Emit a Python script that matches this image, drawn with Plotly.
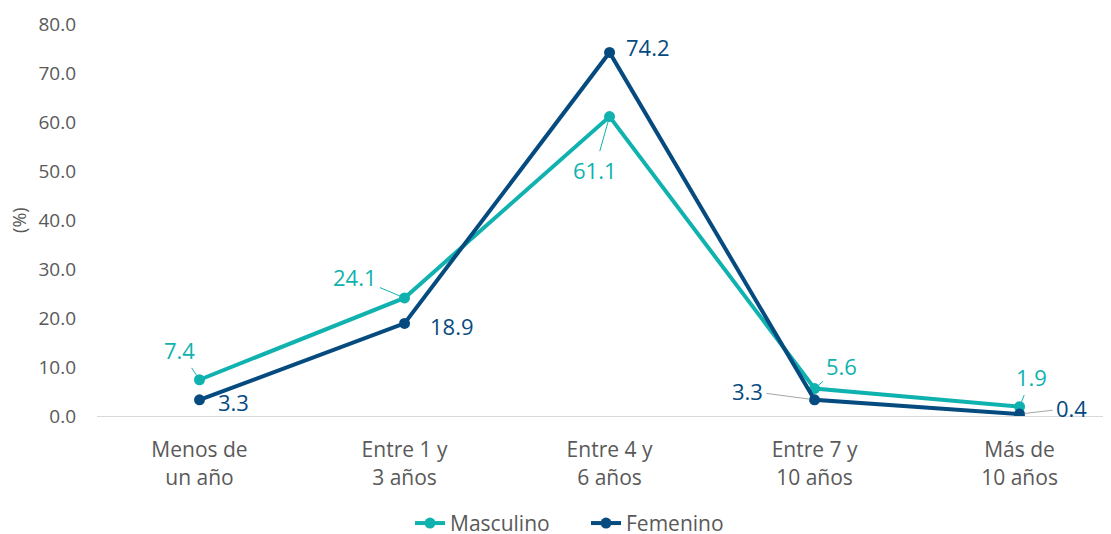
import plotly.graph_objects as go

categories = ["Menos de<br>un año", "Entre 1 y<br>3 años", "Entre 4 y<br>6 años", "Entre 7 y<br>10 años", "Más de<br>10 años"]
masculino = [7.4, 24.1, 61.1, 5.6, 1.9]
femenino = [3.3, 18.9, 74.2, 3.3, 0.4]
y_ticks = [0, 10, 20, 30, 40, 50, 60, 70, 80]

TEAL = "#10B2AF"
NAVY = "#064B80"
GRAY = "#595959"
FONT = "Open Sans"

x_idx = list(range(len(categories)))

fig = go.Figure()
fig.add_trace(go.Scatter(x=x_idx, y=masculino, name="Masculino", mode="lines+markers",
                         line=dict(color=TEAL, width=4), marker=dict(size=11, color=TEAL)))
fig.add_trace(go.Scatter(x=x_idx, y=femenino, name="Femenino", mode="lines+markers",
                         line=dict(color=NAVY, width=4), marker=dict(size=11, color=NAVY)))

# label offsets in pixels (ax, ay) and leader line colours
lab_m = [(-20, -30, TEAL, True), (-50, -21, TEAL, True), (-15, 53, TEAL, True), (27, -23, TEAL, True), (12, -30, TEAL, True)]
lab_f = [(34, 2, NAVY, False), (47, 3, NAVY, False), (38, -5, NAVY, False), (-67, -9, "#A6A6A6", True), (52, -6, "#A6A6A6", True)]

for series, labs, col in [(masculino, lab_m, TEAL), (femenino, lab_f, NAVY)]:
    for i, (v, (ax, ay, lc, show)) in enumerate(zip(series, labs)):
        fig.add_annotation(x=i, y=v, text=f"{v:.1f}", showarrow=True, arrowhead=0,
                           arrowwidth=1 if show else 0.1, arrowcolor=lc if show else "rgba(0,0,0,0)",
                           ax=ax, ay=ay, standoff=5, startstandoff=2,
                           font=dict(family=FONT, size=22, color=col))

fig.add_annotation(xref="paper", yref="paper", x=-0.077, y=0.5, text="(%)", textangle=-90,
                   showarrow=False, xanchor="center", yanchor="middle",
                   font=dict(family=FONT, size=18, color=GRAY))

fig.update_layout(
    width=1111, height=534,
    margin=dict(l=89, r=8, t=16, b=126, autoexpand=False),
    plot_bgcolor="white", paper_bgcolor="white",
    font=dict(family=FONT, color=GRAY),
    showlegend=True,
    legend=dict(orientation="h", x=0.3087, xanchor="left", y=-0.274, yanchor="middle",
                font=dict(family=FONT, size=21, color=GRAY), itemwidth=30, entrywidth=131),
    xaxis=dict(tickmode="array", tickvals=x_idx, ticktext=categories, range=[-0.5, 4.446],
               showgrid=False, zeroline=False, showline=True, linecolor="#D9D9D9", linewidth=1,
               tickfont=dict(family=FONT, size=21, color=GRAY), ticks="", automargin=False,
               ticklabelstandoff=15),
    yaxis=dict(range=[0, 80], tickvals=y_ticks, ticktext=[f"{t:.1f}" for t in y_ticks],
               showgrid=False, zeroline=False, showline=False, automargin=False,
               tickfont=dict(family=FONT, size=19, color=GRAY), ticklabelstandoff=20),
)

fig.write_html("out.html")
